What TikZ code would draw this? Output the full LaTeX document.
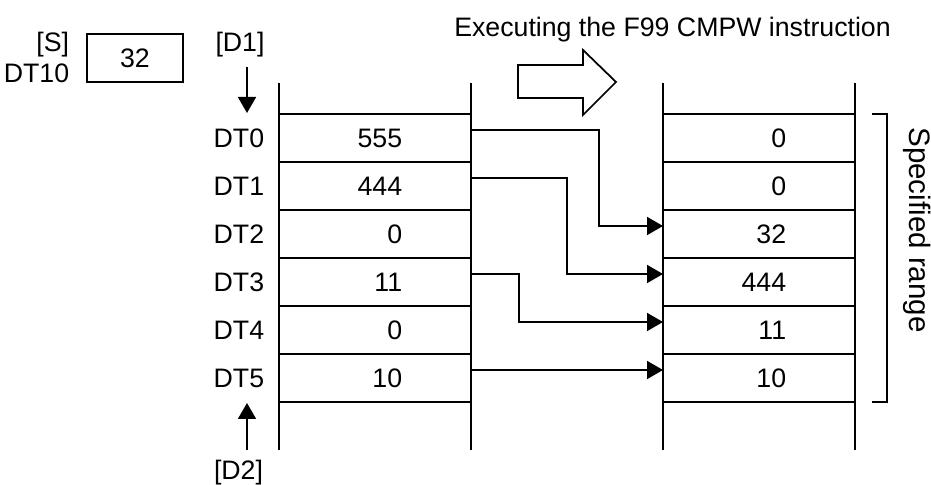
\documentclass[tikz,border=0pt]{standalone}
\usepackage{fontspec}
\setmainfont{Liberation Sans}
\usepackage{tikz}
\usetikzlibrary{arrows.meta}

\tikzset{
  txt/.style={inner sep=0pt,font=\fontsize{15.2}{18}\selectfont},
  flow/.style={line width=1pt,-{Triangle[length=0.32cm,width=0.36cm]}}
}

\begin{document}
\begin{tikzpicture}[x=1cm,y=1cm,line width=1pt]
\path[use as bounding box] (0,0) rectangle (18.62,9.70);
\node[txt] (title) at (13.45,9.10) {Executing the F99 CMPW instruction};
\draw (10.36,8.40) -- (11.66,8.40) -- (11.66,8.70) -- (12.32,8.06) -- (11.66,7.40) -- (11.66,7.74) -- (10.36,7.74) -- cycle;
\node[txt,anchor=east] (slbl) at (1.40,8.80) {[S]};
\node[txt,anchor=east] (sreg) at (1.40,8.24) {DT10};
\node[txt,draw,minimum width=1.92cm,minimum height=0.96cm] (src) at (2.70,8.54) {32};
\node[txt] (d1) at (4.80,8.80) {[D1]};
\node[txt] (d2) at (4.77,0.24) {[D2]};
\coordinate (d1from) at (4.94,8.36);
\coordinate (d1to) at (4.94,7.44);
\coordinate (d2from) at (4.94,0.70);
\coordinate (d2to) at (4.94,1.64);
\draw[flow] (d1from) -- (d1to);
\draw[flow] (d2from) -- (d2to);
\draw (5.58,8.04) -- (5.58,0.70);
\draw (9.42,8.04) -- (9.42,0.70);
\draw (13.26,8.04) -- (13.26,0.70);
\draw (17.10,8.04) -- (17.10,0.70);
\draw (5.58,7.42) -- (9.42,7.42);
\draw (5.58,6.46) -- (9.42,6.46);
\draw (5.58,5.50) -- (9.42,5.50);
\draw (5.58,4.54) -- (9.42,4.54);
\draw (5.58,3.58) -- (9.42,3.58);
\draw (5.58,2.62) -- (9.42,2.62);
\draw (5.58,1.66) -- (9.42,1.66);
\draw (13.26,7.42) -- (17.10,7.42);
\draw (13.26,6.46) -- (17.10,6.46);
\draw (13.26,5.50) -- (17.10,5.50);
\draw (13.26,4.54) -- (17.10,4.54);
\draw (13.26,3.58) -- (17.10,3.58);
\draw (13.26,2.62) -- (17.10,2.62);
\draw (13.26,1.66) -- (17.10,1.66);
\node[txt,anchor=east] (dt0) at (5.30,6.94) {DT0};
\node[txt,anchor=east] (dt1) at (5.30,5.98) {DT1};
\node[txt,anchor=east] (dt2) at (5.30,5.02) {DT2};
\node[txt,anchor=east] (dt3) at (5.30,4.06) {DT3};
\node[txt,anchor=east] (dt4) at (5.30,3.10) {DT4};
\node[txt,anchor=east] (dt5) at (5.30,2.14) {DT5};
\node[txt,anchor=east] (old0) at (8.06,6.94) {555};
\node[txt,anchor=east] (old1) at (8.06,5.98) {444};
\node[txt,anchor=east] (old2) at (8.06,5.02) {0};
\node[txt,anchor=east] (old3) at (8.06,4.06) {11};
\node[txt,anchor=east] (old4) at (8.06,3.10) {0};
\node[txt,anchor=east] (old5) at (8.06,2.14) {10};
\node[txt,anchor=east] (new0) at (15.74,6.94) {0};
\node[txt,anchor=east] (new1) at (15.74,5.98) {0};
\node[txt,anchor=east] (new2) at (15.74,5.02) {32};
\node[txt,anchor=east] (new3) at (15.74,4.06) {444};
\node[txt,anchor=east] (new4) at (15.74,3.10) {11};
\node[txt,anchor=east] (new5) at (15.74,2.14) {10};
\coordinate (out0) at (9.42,7.10);
\coordinate (out1) at (9.42,6.14);
\coordinate (out3) at (9.42,4.22);
\coordinate (out5) at (9.42,2.30);
\coordinate (in2) at (13.26,5.18);
\coordinate (in3) at (13.26,4.22);
\coordinate (in4) at (13.26,3.26);
\coordinate (in5) at (13.26,2.30);
\draw[flow] (out0) -- ++(2.56,0) |- (in2);
\draw[flow] (out1) -- ++(1.92,0) |- (in3);
\draw[flow] (out3) -- ++(0.96,0) |- (in4);
\draw[flow] (out5) -- (in5);
\draw (17.44,7.42) -- (17.74,7.42) -- (17.74,1.66) -- (17.44,1.66);
\node[txt,rotate=-90,font=\fontsize{16.8}{20}\selectfont] (range) at (18.34,5.10) {Specified range};
\end{tikzpicture}
\end{document}
